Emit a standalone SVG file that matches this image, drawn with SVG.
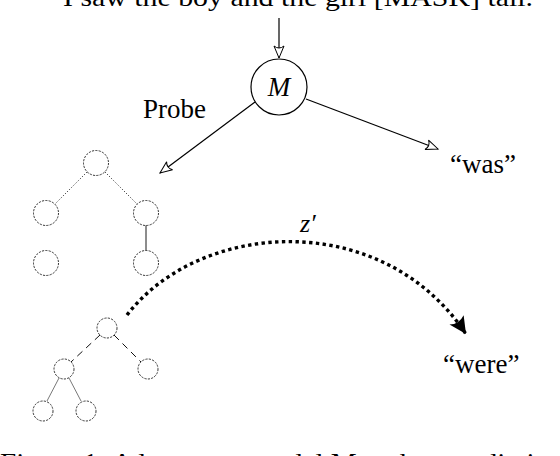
<svg xmlns="http://www.w3.org/2000/svg" width="560" height="456" viewBox="0 0 560 456">
<style>
  .t { font-family: "Liberation Serif", "Times New Roman", serif; fill: #000; }
  .edge { stroke: #000; stroke-width: 1.2; fill: none; }
  .dc { fill: none; stroke: #222; stroke-width: 0.9; stroke-dasharray: 2.2 1.2; }
  .dot { stroke: #111; stroke-width: 1; stroke-dasharray: 1 2; fill: none; }
  .dash { stroke: #111; stroke-width: 1; stroke-dasharray: 7 5; fill: none; }
  .thin { stroke: #555; stroke-width: 0.8; fill: none; }
</style>
<defs>
  <marker id="open" viewBox="-13 -7 15 14" refX="0" refY="0" markerWidth="15" markerHeight="14" markerUnits="userSpaceOnUse" orient="auto">
    <path d="M-12,-5 L0,0 L-12,5 Q-8,0 -12,-5 Z" fill="#fff" stroke="#000" stroke-width="1"/>
  </marker>
  <marker id="solid" viewBox="-18 -10 20 20" refX="0" refY="0" markerWidth="20" markerHeight="20" markerUnits="userSpaceOnUse" orient="auto">
    <path d="M-17,-8.5 L0,0 L-17,8.5 Q-12,0 -17,-8.5 Z" fill="#000"/>
  </marker>
</defs>

<text class="t" x="298" y="6" font-size="26" text-anchor="middle" textLength="470" lengthAdjust="spacingAndGlyphs">I saw the boy and the girl [MASK] tall.</text>

<g id="connectors">
  <line class="edge" x1="279" y1="18" x2="279" y2="58" marker-end="url(#open)"/>
  <line class="edge" x1="255" y1="102" x2="160" y2="173" marker-end="url(#open)"/>
  <line class="edge" x1="306" y1="99" x2="438" y2="149" marker-end="url(#open)"/>
  <path d="M127,315 C200,220 382,208 466,334" fill="none" stroke="#000" stroke-width="3.4" stroke-dasharray="3.4 3.4" marker-end="url(#solid)"/>
  <!-- upper tree edges -->
  <line class="dot" x1="87" y1="172" x2="55" y2="204"/>
  <line class="dot" x1="105" y1="172" x2="137" y2="204"/>
  <line class="edge" style="stroke-width:0.9" x1="146" y1="225.5" x2="146" y2="250.5"/>
  <!-- lower tree edges -->
  <line class="dash" x1="100" y1="335" x2="71" y2="362"/>
  <line class="dash" x1="114" y1="335" x2="141" y2="362"/>
  <line class="thin" x1="59" y1="378" x2="47" y2="401"/>
  <line class="thin" x1="69" y1="378" x2="81" y2="401"/>
</g>

<g id="model">
  <circle cx="279" cy="87" r="28" fill="#fff" stroke="#000" stroke-width="1.2"/>
  <text class="t" x="279" y="96" font-size="27" font-style="italic" text-anchor="middle">M</text>
</g>
<g id="probe-label"><text class="t" x="143" y="118" font-size="27">Probe</text></g>
<g id="was"><text class="t" x="450" y="173" font-size="27">“was”</text></g>
<g id="were"><text class="t" x="443" y="373" font-size="27">“were”</text></g>
<g id="zprime"><text class="t" x="300" y="232" font-size="26" font-style="italic">z′</text></g>

<g id="tree-upper">
  <circle class="dc" cx="96" cy="163" r="12.5"/>
  <circle class="dc" cx="46" cy="213" r="12.5"/>
  <circle class="dc" cx="146" cy="213" r="12.5"/>
  <circle class="dc" cx="46" cy="263" r="12.5"/>
  <circle class="dc" cx="146" cy="263" r="12.5"/>
</g>
<g id="tree-lower">
  <circle class="dc" cx="107" cy="328" r="10"/>
  <circle class="dc" cx="64" cy="369" r="10"/>
  <circle class="dc" cx="148" cy="369" r="10"/>
  <circle class="dc" cx="43" cy="411" r="10"/>
  <circle class="dc" cx="86" cy="411" r="10"/>
</g>

<text class="t" x="0" y="471" font-size="26" textLength="575" lengthAdjust="spacingAndGlyphs">Figure 1: A language model M makes predictions</text>
</svg>
